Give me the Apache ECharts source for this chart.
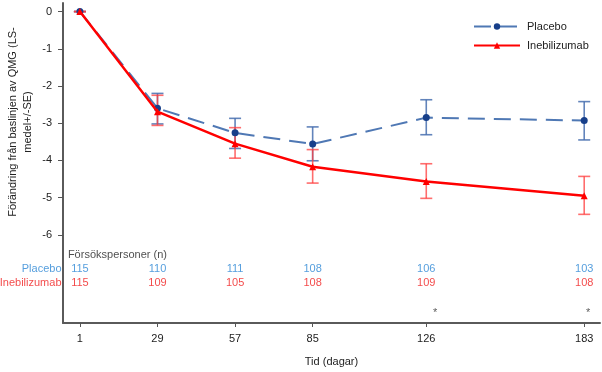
<!DOCTYPE html>
<html>
<head>
<meta charset="utf-8">
<script src="https://cdn.jsdelivr.net/npm/echarts@6/dist/echarts.min.js"></script>
<style>
html,body{margin:0;padding:0;background:#fff;}
#chart{width:602px;height:372px;}
</style>
</head>
<body>
<div id="chart"></div>
<script>
// ---- data ----
const days = [1, 29, 57, 85, 126, 183];
const placeboMean  = [0, -2.60, -3.26, -3.56, -2.85, -2.93];
const placeboUpper = [0, -2.20, -2.87, -3.10, -2.37, -2.42];
const placeboLower = [0, -3.02, -3.68, -4.01, -3.31, -3.45];
const inebMean  = [0, -2.69, -3.55, -4.17, -4.57, -4.95];
const inebUpper = [0, -2.25, -3.12, -3.71, -4.09, -4.43];
const inebLower = [0, -3.06, -3.94, -4.61, -5.02, -5.45];
const placeboN = [115, 110, 111, 108, 106, 103];
const inebN    = [115, 109, 105, 108, 109, 108];
const starDays = [126, 183];
const yTicks = [0, -1, -2, -3, -4, -5, -6];

const FONT = '"Liberation Sans", Arial, sans-serif';
const BLUE_LINE = '#4f78b4';
const BLUE_MARK = '#173f8a';
const BLUE_ERR = 'rgba(70,110,175,0.85)';
const RED = '#ff0000';
const RED_ERR = 'rgba(255,60,60,0.75)';
const BLUE_TXT = '#2a86d4';
const RED_TXT = '#f01c1c';
const STAR_OFFSETS = [[9, 0], [4, 0]];
const X_MIN = -5.1, X_MAX = 188.7;
const ROW_PLACEBO = -6.915, ROW_INEB = -7.29, ROW_HEAD = -6.53;

function errSeries(lower, upper, color) {
  return {
    type: 'custom',
    z: 2,
    silent: true,
    data: days.map((d, i) => [d, lower[i], upper[i]]),
    renderItem: function (params, api) {
      const x = api.value(0);
      const lo = api.coord([x, api.value(1)]);
      const hi = api.coord([x, api.value(2)]);
      const w = 6;
      const st = { stroke: color, lineWidth: 1.6 };
      return {
        type: 'group',
        children: [
          { type: 'line', shape: { x1: hi[0], y1: hi[1], x2: lo[0], y2: lo[1] }, style: st },
          { type: 'line', shape: { x1: hi[0] - w, y1: hi[1], x2: hi[0] + w, y2: hi[1] }, style: st },
          { type: 'line', shape: { x1: lo[0] - w, y1: lo[1], x2: lo[0] + w, y2: lo[1] }, style: st }
        ]
      };
    }
  };
}

function countSeries(counts, yv, color, rowName) {
  const data = days.map((d, i) => [d, yv, counts[i]]);
  data.push({ value: [X_MIN, yv, rowName], label: { position: 'left', distance: 1 } });
  return {
    type: 'scatter',
    silent: true,
    symbolSize: 1,
    itemStyle: { color: 'rgba(0,0,0,0)' },
    data: data,
    label: {
      show: true, position: 'inside',
      formatter: p => String(p.value[2]),
      color: color, fontSize: 11, fontFamily: FONT
    }
  };
}

const chart = echarts.init(document.getElementById('chart'), null, { renderer: 'canvas' });
chart.setOption({
  animation: false,
  backgroundColor: '#fff',
  textStyle: { fontFamily: FONT },
  grid: { left: 63, right: 2, top: 3, bottom: 44 },
  legend: {
    data: ['Placebo', 'Inebilizumab'],
    orient: 'vertical',
    left: 473, top: 21, padding: 0,
    itemWidth: 46, itemHeight: 8, itemGap: 8,
    textStyle: { fontSize: 11, color: '#222', fontFamily: FONT, padding: [0, 0, 0, 2] }
  },
  xAxis: {
    type: 'value', min: X_MIN, max: X_MAX,
    name: 'Tid (dagar)', nameLocation: 'middle', nameGap: 33,
    nameTextStyle: { fontSize: 11, color: '#222', fontFamily: FONT },
    axisLine: { show: true, onZero: false, lineStyle: { color: '#5a5a5a', width: 2 } },
    axisTick: { show: true, customValues: days, length: 4, lineStyle: { color: '#555', width: 1 } },
    axisLabel: { customValues: days, fontSize: 11, color: '#222', margin: 10, fontFamily: FONT },
    splitLine: { show: false }
  },
  yAxis: {
    type: 'value', min: -8.37, max: 0.23,
    axisLine: { show: true, onZero: false, lineStyle: { color: '#5a5a5a', width: 2 } },
    axisTick: { show: true, customValues: yTicks, length: 5, lineStyle: { color: '#555', width: 1 } },
    axisLabel: { customValues: yTicks, fontSize: 11, color: '#222', margin: 11, fontFamily: FONT },
    splitLine: { show: false }
  },
  graphic: [
    {
      type: 'text', x: 20, y: 122, rotation: Math.PI / 2,
      style: {
        text: 'Förändring från baslinjen av QMG (LS-\nmedel+/-SE)',
        align: 'center', verticalAlign: 'middle', lineHeight: 15,
        fontSize: 11, fill: '#222', fontFamily: FONT
      }
    }
  ],
  series: [
    errSeries(placeboLower, placeboUpper, BLUE_ERR),
    errSeries(inebLower, inebUpper, RED_ERR),
    {
      name: 'Placebo', type: 'line', z: 3,
      data: days.map((d, i) => [d, placeboMean[i]]),
      symbol: 'circle', symbolSize: 7,
      lineStyle: { color: BLUE_LINE, width: 2, type: [17, 9] },
      itemStyle: { color: BLUE_MARK }
    },
    {
      name: 'Inebilizumab', type: 'line', z: 4,
      data: days.map((d, i) => [d, inebMean[i]]),
      symbol: 'triangle', symbolSize: 7,
      lineStyle: { color: RED, width: 2.5 },
      itemStyle: { color: RED }
    },
    countSeries(placeboN, ROW_PLACEBO, BLUE_TXT, 'Placebo'),
    countSeries(inebN, ROW_INEB, RED_TXT, 'Inebilizumab'),
    {
      type: 'scatter', silent: true, symbolSize: 1,
      itemStyle: { color: 'rgba(0,0,0,0)' },
      data: [[1, ROW_HEAD]],
      label: {
        show: true, position: 'inside', formatter: 'Försökspersoner (n)',
        align: 'left', offset: [-12, 0],
        color: '#222', fontSize: 11, fontFamily: FONT
      }
    },
    {
      type: 'scatter', silent: true, symbolSize: 1,
      itemStyle: { color: 'rgba(0,0,0,0)' },
      data: starDays.map((d, i) => ({ value: [d, -8.1], label: { offset: STAR_OFFSETS[i] } })),
      label: {
        show: true, position: 'inside', formatter: '*',
        color: '#333', fontSize: 11, fontFamily: FONT
      }
    }
  ]
});
</script>
</body>
</html>
